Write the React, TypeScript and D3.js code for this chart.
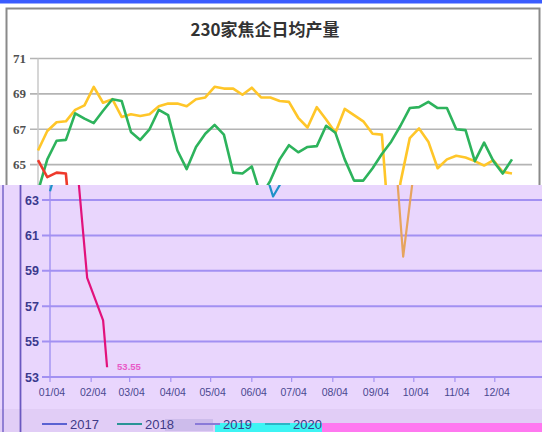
import * as d3 from "d3";

// weekly readings, first point on 01/04
const weekCount = 52;
const yield2018 = [63.5, 65.3, 66.35, 66.4, 67.9, 67.6, 67.35, 68.05, 68.7, 68.6, 66.85, 66.4, 67.0, 68.1, 67.8, 65.8, 64.75, 66.0, 66.75, 67.25, 66.7, 64.55, 64.5, 64.9, 63.2, 64.1, 65.3, 66.1, 65.7, 66.0, 66.05, 67.2, 66.8, 65.3, 64.1, 64.1, 64.8, 65.6, 66.3, 67.2, 68.2, 68.25, 68.55, 68.2, 68.2, 67.0, 66.95, 65.2, 66.25, 65.2, 64.5, 65.3];
const yield2019 = [65.8, 66.9, 67.4, 67.45, 68.1, 68.35, 69.4, 68.5, 68.7, 67.7, 67.85, 67.75, 67.85, 68.3, 68.45, 68.45, 68.3, 68.7, 68.8, 69.4, 69.3, 69.3, 68.95, 69.35, 68.8, 68.8, 68.6, 68.55, 67.65, 67.1, 68.25, 67.55, 66.8, 68.15, 67.8, 67.45, 66.75, 66.7, 59.8, 64.0, 66.5, 67.05, 66.3, 64.8, 65.3, 65.5, 65.4, 65.2, 64.95, 65.25, 64.6, 64.5];
const days2020 = ["01/04", "01/11", "01/18", "01/25", "02/01", "02/08", "02/13", "02/16"];
const yield2020 = [65.25, 64.3, 64.55, 64.5, 58.6, 57.2, 56.2, 53.55];

const yTicksTop = [65, 67, 69, 71];
const yTicksBottom = [53, 55, 57, 59, 61, 63];
const monthTicks = ["01/04", "02/04", "03/04", "04/04", "05/04", "06/04", "07/04", "08/04", "09/04", "10/04", "11/04", "12/04"];
const legendNames = ["2017", "2018", "2019", "2020"];

type Pt = { d: Date; v: number };

const parse = d3.timeParse("%Y/%m/%d");
const weekDates = d3.range(weekCount).map((i) => new Date(2020, 0, 4 + 7 * i));
const s2018: Pt[] = weekDates.map((d, i) => ({ d, v: yield2018[i] }));
const s2019: Pt[] = weekDates.map((d, i) => ({ d, v: yield2019[i] }));
const s2020: Pt[] = days2020.map((s, i) => ({ d: parse("2020/" + s) as Date, v: yield2020[i] }));

export default function App() {
  const W = 542;
  const H = 432;
  const split = 185; // where the lavender part starts

  const domain = [new Date(2020, 0, 4), weekDates[weekCount - 1]];
  const xTop = d3.scaleTime().domain(domain).range([38, 512]);
  const xBot = d3.scaleTime().domain(domain).range([50, 524]);
  const y = d3.scaleLinear().domain([53, 71]).range([377, 58.5]);

  const lineTop = d3.line<Pt>().x((p) => xTop(p.d)).y((p) => y(p.v));
  const lineBot = d3.line<Pt>().x((p) => xBot(p.d)).y((p) => y(p.v));

  const fmt = d3.timeFormat("%m/%d");
  const last = s2020[s2020.length - 1];

  return (
    <svg width={W} height={H} style={{ position: "absolute", left: 0, top: 0 }}>
      <defs>
        <clipPath id="clipTop">
          <rect x={7} y={9} width={532} height={split - 9} />
        </clipPath>
        <clipPath id="clipBot">
          <rect x={0} y={split} width={W} height={H - split} />
        </clipPath>
      </defs>

      {/* upper white panel */}
      <rect x={0} y={0} width={W} height={H} fill="#ffffff" />
      <rect x={0} y={0} width={W} height={3.5} fill="#3a5cff" />
      <rect x={6.5} y={8.5} width={533} height={200} fill="#fff" stroke="#8a8a8a" strokeWidth={2} />
      <text x={265} y={36} textAnchor="middle" fontFamily="'Noto Sans CJK SC', sans-serif" fontWeight="bold" fontSize={17} fill="#333">
        230家焦企日均产量
      </text>
      {yTicksTop.map((t) => (
        <g key={"gt" + t}>
          <line x1={30} x2={532} y1={y(t)} y2={y(t)} stroke="#b4b4b4" strokeWidth={1.6} />
          <text x={26} y={y(t) + 4.5} textAnchor="end" fontFamily="'Liberation Serif', serif" fontWeight="bold" fontSize={13} fill="#505050">
            {t}
          </text>
        </g>
      ))}
      <line x1={38} x2={38} y1={y(71)} y2={split} stroke="#c8c8c8" strokeWidth={1.5} />
      <g clipPath="url(#clipTop)" fill="none" strokeWidth={2.6} strokeLinejoin="round">
        <path d={lineTop(s2019) || ""} stroke="#ffc629" />
        <path d={lineTop(s2018) || ""} stroke="#2db35c" />
        <path d={lineTop(s2020) || ""} stroke="#ee3a2c" />
      </g>

      {/* lower lavender panel */}
      <g>
        <rect x={0} y={split} width={W} height={H - split} fill="#e9d6fd" />
        <rect x={0} y={409} width={W} height={H - 409} fill="#e1cdf6" />
        <line x1={3} x2={3} y1={split} y2={H} stroke="#7664c8" strokeWidth={1.5} />
        <line x1={20.5} x2={20.5} y1={split} y2={H} stroke="#6a58c0" strokeWidth={1.8} />
        <line x1={50} x2={50} y1={split} y2={y(53)} stroke="#a496f2" strokeWidth={1.5} />
        {yTicksBottom.map((t) => (
          <g key={"gb" + t}>
            <line x1={42} x2={W} y1={y(t)} y2={y(t)} stroke="#a290f2" strokeWidth={2} />
            <text x={39} y={y(t) + 4.5} textAnchor="end" fontFamily="'Liberation Sans', sans-serif" fontWeight="bold" fontSize={12.5} fill="#3b3a8e">
              {t}
            </text>
          </g>
        ))}
        {monthTicks.map((m) => {
          const d = parse("2020/" + m) as Date;
          const x = xBot(d);
          return (
            <g key={m}>
              <line x1={x} x2={x} y1={y(53)} y2={y(53) + 5} stroke="#a290f2" strokeWidth={1.2} />
              <text x={x + 2} y={396} textAnchor="middle" fontFamily="'Liberation Sans', sans-serif" fontSize={10.5} fill="#4a4890">
                {fmt(d)}
              </text>
            </g>
          );
        })}
        <g clipPath="url(#clipBot)" fill="none" strokeWidth={2.2} strokeLinejoin="round">
          <path d={lineBot(s2019) || ""} stroke="#e6a45e" />
          <path d={lineBot(s2018) || ""} stroke="#1e92c8" />
          <path d={lineBot(s2020) || ""} stroke="#e2127c" />
        </g>
        <text x={xBot(last.d) + 10} y={y(last.v) + 3} fontFamily="'Liberation Sans', sans-serif" fontWeight="bold" fontSize={9.5} fill="#e85ac8">
          {last.v.toFixed(2)}
        </text>

        {/* legend strip with broken pixels */}
        <rect x={215} y={423} width={107} height={9} fill="#3ef4f4" />
        <rect x={322} y={423} width={220} height={9} fill="#ff78f0" />
        <rect x={165} y={419} width={48} height={12} fill="#c8b8e8" opacity={0.8} />
        {legendNames.map((n, i) => {
          const lx = [42, 117, 195, 265][i];
          const col = ["#5a62d2", "#2a9496", "#8a7ad8", "#2ab6c6"][i];
          return (
            <g key={n}>
              <line x1={lx} x2={lx + 25} y1={424} y2={424} stroke={col} strokeWidth={2} />
              <text x={lx + 28} y={429} fontFamily="'Liberation Sans', sans-serif" fontSize={13} fill="#3e3a86">
                {n}
              </text>
            </g>
          );
        })}
      </g>
    </svg>
  );
}
